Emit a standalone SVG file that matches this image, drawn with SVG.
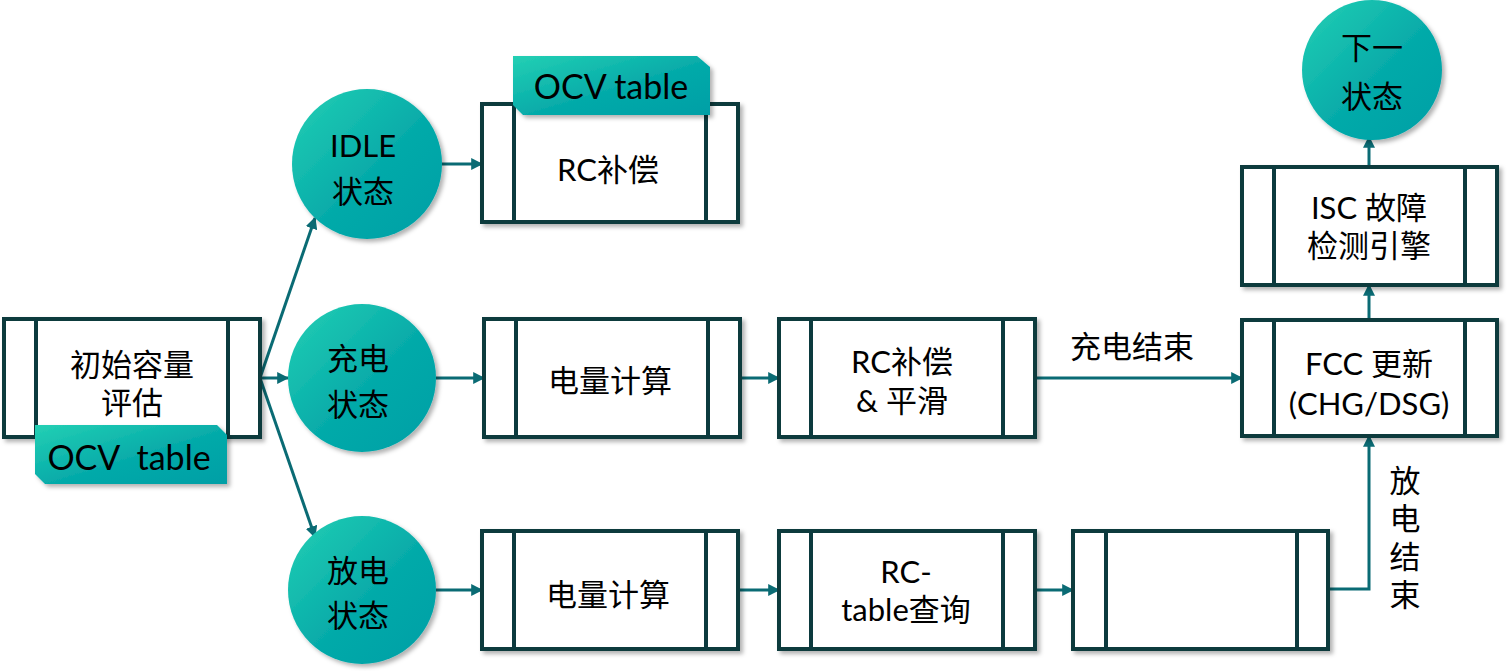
<svg xmlns="http://www.w3.org/2000/svg" width="1508" height="671" viewBox="0 0 1508 671">
<defs>
<linearGradient id="tg" x1="0" y1="0" x2="1" y2="1">
<stop offset="0" stop-color="#24d0b4"/>
<stop offset="0.55" stop-color="#05aaa9"/>
<stop offset="1" stop-color="#009fa6"/>
</linearGradient>
<filter id="sh" x="-10%" y="-10%" width="130%" height="130%">
<feDropShadow dx="3" dy="3" stdDeviation="2" flood-color="#000" flood-opacity="0.3"/>
</filter>
<marker id="ar" viewBox="0 0 10 10" refX="9" refY="5" markerWidth="4" markerHeight="4" orient="auto" markerUnits="strokeWidth">
<path d="M0,0 L10,5 L0,10 Z" fill="#0a6b74"/>
</marker>
<style>
.bx{fill:#fff;stroke:#0c3a3e;stroke-width:4;filter:url(#sh)}
.in{stroke:#0c3a3e;stroke-width:4}
.ci{fill:url(#tg);filter:url(#sh)}
.tag{fill:url(#tg);filter:url(#sh)}
.t{font-family:Lato,"Noto Sans CJK SC",sans-serif;font-size:31px;fill:#000;text-anchor:middle;dominant-baseline:central}
.tt{font-size:34px}
.c{fill:none;stroke:#0a6b74;stroke-width:3}
</style>
</defs>

<g id="connectors">
<path class="c" d="M260,378 L315,218" marker-end="url(#ar)"/>
<path class="c" d="M260,378 L288,378" marker-end="url(#ar)"/>
<path class="c" d="M260,378 L315,537" marker-end="url(#ar)"/>
<path class="c" d="M442,164 L482,164" marker-end="url(#ar)"/>
<path class="c" d="M436,378 L484,378" marker-end="url(#ar)"/>
<path class="c" d="M740,378 L779,378" marker-end="url(#ar)"/>
<path class="c" d="M1035,378 L1242,378" marker-end="url(#ar)"/>
<path class="c" d="M436,590 L482,590" marker-end="url(#ar)"/>
<path class="c" d="M738,590 L779,590" marker-end="url(#ar)"/>
<path class="c" d="M1035,590 L1073,590" marker-end="url(#ar)"/>
<path class="c" d="M1328,589 L1369,589 L1369,436" marker-end="url(#ar)"/>
<path class="c" d="M1369,320 L1369,285" marker-end="url(#ar)"/>
<path class="c" d="M1369,167 L1369,137" marker-end="url(#ar)"/>
<text class="t" x="1132" y="346">充电结束</text>
<text class="t"><tspan x="1405" y="480">放</tspan><tspan x="1405" y="518">电</tspan><tspan x="1405" y="556">结</tspan><tspan x="1405" y="594">束</tspan></text>
</g>

<g id="init">
<rect class="bx" x="4" y="319" width="256" height="118"/>
<line class="in" x1="36" y1="319" x2="36" y2="437"/>
<line class="in" x1="228" y1="319" x2="228" y2="437"/>
<text class="t"><tspan x="132" y="364">初始容量</tspan><tspan x="132" y="402">评估</tspan></text>
</g>
<g id="tag-bottom">
<path class="tag" d="M35,425 L217,425 L227,435 L227,484 L45,484 L35,474 Z"/>
<text class="t tt" x="129" y="456" xml:space="preserve">OCV  table</text>
</g>

<g id="idle">
<circle class="ci" cx="367" cy="164" r="75"/>
<text class="t"><tspan x="363" y="145">IDLE</tspan><tspan x="363" y="191">状态</tspan></text>
</g>
<g id="charge">
<circle class="ci" cx="362" cy="378" r="74"/>
<text class="t"><tspan x="358" y="358">充电</tspan><tspan x="358" y="404">状态</tspan></text>
</g>
<g id="discharge">
<circle class="ci" cx="362" cy="590" r="74"/>
<text class="t"><tspan x="358" y="570">放电</tspan><tspan x="358" y="615">状态</tspan></text>
</g>
<g id="next">
<circle class="ci" cx="1372" cy="70" r="70"/>
<text class="t"><tspan x="1372" y="47">下一</tspan><tspan x="1372" y="96">状态</tspan></text>
</g>

<g id="rc-idle">
<rect class="bx" x="482" y="104" width="256" height="118"/>
<line class="in" x1="514" y1="104" x2="514" y2="222"/>
<line class="in" x1="706" y1="104" x2="706" y2="222"/>
<text class="t" x="608" y="169">RC补偿</text>
</g>
<g id="tag-top">
<path class="tag" d="M513,56 L697,56 L710,67 L710,115 L523,115 L513,105 Z"/>
<text class="t tt" x="611" y="85">OCV table</text>
</g>

<g id="calc-chg">
<rect class="bx" x="484" y="319" width="256" height="118"/>
<line class="in" x1="516" y1="319" x2="516" y2="437"/>
<line class="in" x1="708" y1="319" x2="708" y2="437"/>
<text class="t" x="610" y="380">电量计算</text>
</g>
<g id="rc-smooth">
<rect class="bx" x="779" y="319" width="256" height="118"/>
<line class="in" x1="811" y1="319" x2="811" y2="437"/>
<line class="in" x1="1003" y1="319" x2="1003" y2="437"/>
<text class="t"><tspan x="902" y="361">RC补偿</tspan><tspan x="902" y="400">&amp; 平滑</tspan></text>
</g>
<g id="fcc">
<rect class="bx" x="1242" y="320" width="255" height="116"/>
<line class="in" x1="1274" y1="320" x2="1274" y2="436"/>
<line class="in" x1="1465" y1="320" x2="1465" y2="436"/>
<text class="t"><tspan x="1369" y="363">FCC 更新</tspan><tspan x="1369" y="403">(CHG/DSG)</tspan></text>
</g>
<g id="isc">
<rect class="bx" x="1242" y="167" width="255" height="118"/>
<line class="in" x1="1274" y1="167" x2="1274" y2="285"/>
<line class="in" x1="1465" y1="167" x2="1465" y2="285"/>
<text class="t"><tspan x="1369" y="207">ISC 故障</tspan><tspan x="1369" y="245">检测引擎</tspan></text>
</g>

<g id="calc-dsg">
<rect class="bx" x="482" y="531" width="256" height="118"/>
<line class="in" x1="514" y1="531" x2="514" y2="649"/>
<line class="in" x1="706" y1="531" x2="706" y2="649"/>
<text class="t" x="608" y="594">电量计算</text>
</g>
<g id="rc-table">
<rect class="bx" x="779" y="531" width="256" height="118"/>
<line class="in" x1="811" y1="531" x2="811" y2="649"/>
<line class="in" x1="1003" y1="531" x2="1003" y2="649"/>
<text class="t"><tspan x="906" y="571">RC-</tspan><tspan x="906" y="609">table查询</tspan></text>
</g>
<g id="blank">
<rect class="bx" x="1073" y="531" width="255" height="118"/>
<line class="in" x1="1106" y1="531" x2="1106" y2="649"/>
<line class="in" x1="1297" y1="531" x2="1297" y2="649"/>
</g>
</svg>
